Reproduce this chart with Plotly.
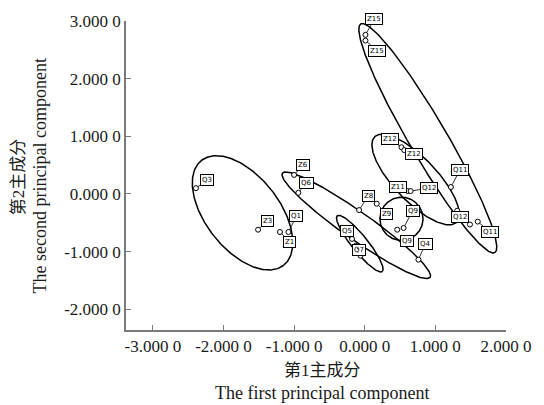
import numpy as np
import plotly.graph_objects as go

# ---------------- data ----------------
# sample points (first / second principal component scores)
pt_labels = ["Q3", "Z3", "Z1", "Q1", "Z6", "Q6", "Z8", "Q4",
             "Q5", "", "Q7", "",
             "Z9", "Q9", "Q9", "Z11", "Q12", "Z12", "Z12",
             "Z15", "Z15", "Q11", "Q12", "", "Q11"]
pt_x = [-2.39, -1.51, -1.20, -1.08, -1.00, -0.94, -0.08, 0.76,
        -0.31, -0.18, -0.13, -0.06,
        0.17, 0.55, 0.46, 0.61, 0.65, 0.52, 0.56,
        0.01, 0.01, 1.22, 1.31, 1.49, 1.60]
pt_y = [0.10, -0.62, -0.66, -0.66, 0.33, 0.02, -0.28, -1.14,
        -0.59, -0.78, -0.90, -1.07,
        -0.17, -0.59, -0.62, 0.05, 0.05, 0.81, 0.76,
        2.76, 2.66, 0.12, -0.29, -0.53, -0.48]

# confidence ellipses: centre and two conjugate semi-diameters (data units)
ell_cx = [-1.730, -0.120, -0.070, 0.520, 0.720, 0.893]
ell_cy = [-0.328, -0.543, -0.862, -0.431, 0.250, 0.966]
ell_ax = [0.581, 1.045, 0.318, 0.305, 0.580, 0.949]
ell_ay = [-0.910, -0.903, -0.484, 0.000, -0.740, -1.983]
ell_bx = [0.411, 0.113, 0.088, 0.000, 0.215, 0.230]
ell_by = [0.393, 0.197, 0.087, 0.374, 0.265, 0.166]

x_tickvals = [-3, -2, -1, 0, 1, 2]
x_ticktext = ["-3.000 0", "-2.000 0", "-1.000 0", "0.000 0", "1.000 0", "2.000 0"]
y_tickvals = [-2, -1, 0, 1, 2, 3]
y_ticktext = ["-2.000 0", "-1.000 0", "0.000 0", "1.000 0", "2.000 0", "3.000 0"]

# ---------------- styles ----------------
# label offsets (pixels) of the boxed labels relative to their points
lab_dx = [11, 9, 10, 8, 9, 8, 9, 7, 4, 0, 3, 0, 10, 9, 10, -10, 18, -11, 10, 9, 12, 9, 3, 0, 12]
lab_dy = [-8, -9, 10, -16, -10, -10, -14, -16, 3, 0, 4, 0, 10, -17, 11, -4, -3, -8, 4, -16, 10, -17, 6, 0, 10]

FONT = "Liberation Serif, Noto Sans CJK SC, serif"
AXCOL = "#7a7a7a"
TXT = "#1a1a1a"

fig = go.Figure()

t = np.linspace(0, 2 * np.pi, 300)
for cx, cy, ax_, ay_, bx_, by_ in zip(ell_cx, ell_cy, ell_ax, ell_ay, ell_bx, ell_by):
    fig.add_trace(go.Scatter(
        x=cx + ax_ * np.cos(t) + bx_ * np.sin(t),
        y=cy + ay_ * np.cos(t) + by_ * np.sin(t),
        mode="lines", line=dict(color="black", width=1.5),
        hoverinfo="skip", showlegend=False))

fig.add_trace(go.Scatter(
    x=pt_x, y=pt_y, mode="markers",
    marker=dict(symbol="circle", size=5, color="white",
                line=dict(color="black", width=1)),
    hoverinfo="skip", showlegend=False))

for x, y, lab, dx, dy in zip(pt_x, pt_y, pt_labels, lab_dx, lab_dy):
    if not lab:
        continue
    fig.add_annotation(
        x=x, y=y, text=lab, showarrow=True, arrowhead=0, arrowwidth=0.8,
        arrowcolor="black", ax=dx, ay=dy, standoff=2.5,
        font=dict(family="DejaVu Sans, sans-serif", size=7, color="black"),
        bgcolor="white", bordercolor="black", borderwidth=1, borderpad=1)

# axis titles
fig.add_annotation(xref="paper", yref="paper", x=0.517, y=-0.132,
                   text="第1主成分", showarrow=False,
                   font=dict(family=FONT, size=17, color=TXT),
                   xanchor="center", yanchor="middle")
fig.add_annotation(xref="paper", yref="paper", x=0.517, y=-0.205,
                   text="The first principal component", showarrow=False,
                   font=dict(family=FONT, size=18, color=TXT),
                   xanchor="center", yanchor="middle")
fig.add_annotation(xref="paper", yref="paper", x=-0.282, y=0.497,
                   text="第2主成分", showarrow=False, textangle=-90,
                   font=dict(family=FONT, size=17, color=TXT),
                   xanchor="center", yanchor="middle")
fig.add_annotation(xref="paper", yref="paper", x=-0.226, y=0.497,
                   text="The second principal component", showarrow=False, textangle=-90,
                   font=dict(family=FONT, size=18, color=TXT),
                   xanchor="center", yanchor="middle")

fig.update_layout(
    width=544, height=405,
    margin=dict(l=126, r=35, t=18, b=75),
    paper_bgcolor="white", plot_bgcolor="white",
    xaxis=dict(range=[-3.38, 2.0], tickvals=x_tickvals, ticktext=x_ticktext,
               showgrid=False, zeroline=False, showline=True, linecolor=AXCOL,
               linewidth=1.5, ticks="inside", ticklen=5, tickcolor=AXCOL,
               tickfont=dict(family=FONT, size=17, color=TXT)),
    yaxis=dict(range=[-2.36, 3.0], tickvals=y_tickvals, ticktext=y_ticktext,
               showgrid=False, zeroline=False, showline=True, linecolor=AXCOL,
               linewidth=1.5, ticks="inside", ticklen=5, tickcolor=AXCOL,
               tickfont=dict(family=FONT, size=17, color=TXT)),
)

fig.write_html("out.html", config={"displayModeBar": False},
               post_script="document.body.style.margin='0';")
